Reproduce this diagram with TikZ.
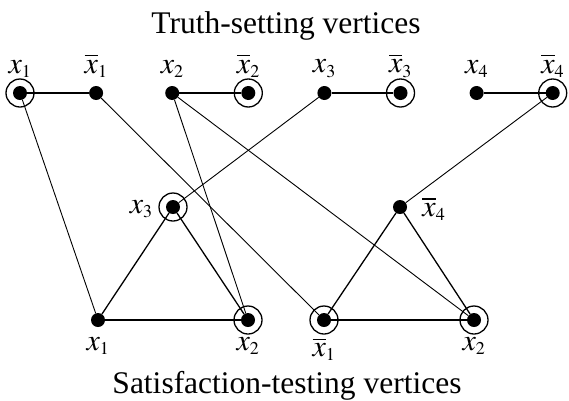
\documentclass[tikz,border=0pt]{standalone}
\usepackage{mathptmx}
\usepackage{fontspec}
\setmainfont{Liberation Serif}
\DeclareMathSizes{30}{30}{18}{14}
\usetikzlibrary{positioning}

\begin{document}
\begin{tikzpicture}[x=1pt, y=1pt, font=\fontsize{30}{36}\selectfont]
  \tikzstyle{vertex} = [circle, fill=black, minimum size=14pt, inner sep=0pt]
  \tikzstyle{tag} = [inner sep=0pt]
  \tikzstyle{heading} = [anchor=base, font=\fontsize{31.5}{38}\selectfont]
  \tikzstyle{ring} = [line width=1.3pt]
  \tikzstyle{pair} = [line width=1.8pt]
  \tikzstyle{side} = [line width=1.3pt]
  \tikzstyle{link} = [line width=0.9pt]

  \useasboundingbox (0,-400) rectangle (569,0);

  \node [heading] (toptitle) at (286,-33) {Truth-setting vertices};
  \node [heading] (bottitle) at (287,-393) {Satisfaction-testing vertices};

  % truth-setting row
  \node [vertex] (t1) at (20,-93) {};
  \node [vertex, right=61.7pt of t1] (tn1) {};
  \node [vertex, right=61.7pt of tn1] (t2) {};
  \node [vertex, right=61.7pt of t2] (tn2) {};
  \node [vertex, right=61.7pt of tn2] (t3) {};
  \node [vertex, right=61.7pt of t3] (tn3) {};
  \node [vertex, right=61.7pt of tn3] (t4) {};
  \node [vertex, right=61.7pt of t4] (tn4) {};

  \node [tag, above=8pt of t1] (lt1) {$x_1$};
  \node [tag, above=8pt of tn1] (ltn1) {$\overline{x}_1$};
  \node [tag, above=8pt of t2] (lt2) {$x_2$};
  \node [tag, above=8pt of tn2] (ltn2) {$\overline{x}_2$};
  \node [tag, above=8pt of t3] (lt3) {$x_3$};
  \node [tag, above=8pt of tn3] (ltn3) {$\overline{x}_3$};
  \node [tag, above=8pt of t4] (lt4) {$x_4$};
  \node [tag, above=8pt of tn4] (ltn4) {$\overline{x}_4$};

  % satisfaction-testing triangles
  \node [vertex] (c1x3) at (173,-207) {};
  \node [vertex] (c1x1) at (98,-320) {};
  \node [vertex] (c1x2) at (248,-320) {};
  \node [vertex] (c2x4) at (400,-207) {};
  \node [vertex] (c2x1) at (324,-320) {};
  \node [vertex] (c2x2) at (474,-320) {};

  \node [tag, left=13pt of c1x3, yshift=-2pt] (lc1x3) {$x_3$};
  \node [tag, below=10pt of c1x1] (lc1x1) {$x_1$};
  \node [tag, below=10pt of c1x2] (lc1x2) {$x_2$};
  \node [tag, right=15pt of c2x4, yshift=-2pt] (lc2x4) {$\overline{x}_4$};
  \node [tag, below=10pt of c2x1] (lc2x1) {$\overline{x}_1$};
  \node [tag, below=10pt of c2x2] (lc2x2) {$x_2$};

  \draw [pair] (t1) -- (tn1);
  \draw [pair] (t2) -- (tn2);
  \draw [pair] (t3) -- (tn3);
  \draw [pair] (t4) -- (tn4);

  \draw [side] (c1x3) -- (c1x1);
  \draw [side] (c1x3) -- (c1x2);
  \draw [pair] (c1x1) -- (c1x2);
  \draw [side] (c2x4) -- (c2x1);
  \draw [side] (c2x4) -- (c2x2);
  \draw [pair] (c2x1) -- (c2x2);

  \draw [link] (t1) -- (c1x1);
  \draw [link] (tn1) -- (c2x1);
  \draw [link] (t2) -- (c1x2);
  \draw [link] (t2) -- (c2x2);
  \draw [link] (t3) -- (c1x3);
  \draw [link] (tn4) -- (c2x4);

  \foreach \v in {t1, tn2, tn3, tn4, c1x3, c1x2, c2x1, c2x2}
    \draw [ring] (\v) circle (14pt);
\end{tikzpicture}
\end{document}
